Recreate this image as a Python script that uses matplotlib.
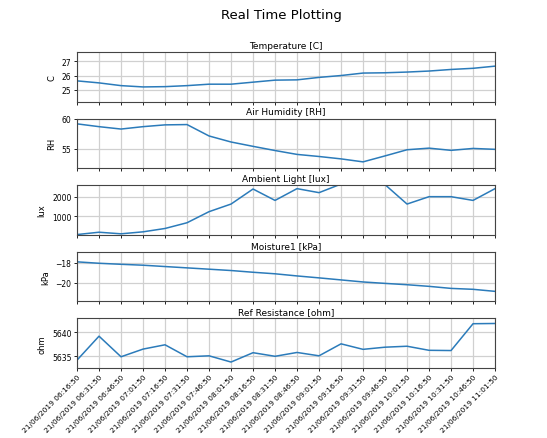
import matplotlib
matplotlib.use('Agg')
import matplotlib.pyplot as plt

# horarios das leituras (a cada 15 min)
horarios = ['21/06/2019 06:16:50', '21/06/2019 06:31:50', '21/06/2019 06:46:50',
            '21/06/2019 07:01:50', '21/06/2019 07:16:50', '21/06/2019 07:31:50',
            '21/06/2019 07:46:50', '21/06/2019 08:01:50', '21/06/2019 08:16:50',
            '21/06/2019 08:31:50', '21/06/2019 08:46:50', '21/06/2019 09:01:50',
            '21/06/2019 09:16:50', '21/06/2019 09:31:50', '21/06/2019 09:46:50',
            '21/06/2019 10:01:50', '21/06/2019 10:16:50', '21/06/2019 10:31:50',
            '21/06/2019 10:46:50', '21/06/2019 11:01:50']

temperatura = [25.63, 25.49, 25.30, 25.21, 25.23, 25.30, 25.40, 25.40, 25.54, 25.68,
               25.70, 25.87, 26.00, 26.17, 26.19, 26.24, 26.31, 26.42, 26.50, 26.65]
umidade = [59.17, 58.70, 58.30, 58.70, 59.00, 59.05, 57.14, 56.13, 55.40, 54.70,
           54.05, 53.70, 53.30, 52.80, 53.80, 54.83, 55.10, 54.73, 55.05, 54.90]
luz = [50, 170, 88, 190, 363, 658, 1228, 1620, 2394, 1808,
       2414, 2207, 2650, 2700, 2620, 1620, 2000, 2000, 1808, 2414]
umidade_solo = [-17.93, -18.07, -18.17, -18.26, -18.39, -18.52, -18.65, -18.78, -18.95, -19.10,
                -19.31, -19.50, -19.70, -19.90, -20.04, -20.17, -20.33, -20.53, -20.62, -20.82]
resistencia = [5634.2, 5639.2, 5634.9, 5636.5, 5637.4, 5634.9, 5635.1, 5633.8, 5635.75, 5635.0,
               5635.8, 5635.1, 5637.6, 5636.45, 5636.9, 5637.1, 5636.25, 5636.2, 5641.8, 5641.85]

paineis = [
    ('Temperature [C]', 'C', temperatura, (24.2, 27.63), [25, 26, 27]),
    ('Air Humidity [RH]', 'RH', umidade, (51.75, 60.05), [55, 60]),
    ('Ambient Light [lux]', 'lux', luz, (40, 2590), [1000, 2000]),
    ('Moisture1 [kPa]', 'kPa', umidade_solo, (-21.8, -16.95), [-20, -18]),
    ('Ref Resistance [ohm]', 'ohm', resistencia, (5632.56, 5642.9), [5635, 5640]),
]

fig, axs = plt.subplots(5, 1, sharex=True, figsize=(5.47, 4.39), dpi=100)
fig.subplots_adjust(left=0.1408, right=0.905, top=0.8793, bottom=0.1595, hspace=0.345)
fig.suptitle('Real Time Plotting', fontsize=9.5, x=0.514, y=0.98)

x = list(range(len(horarios)))
for ax, (titulo, unidade, valores, lim, ticks) in zip(axs, paineis):
    ax.plot(x, valores, color='#2b7bba', linewidth=1.1)
    ax.set_title(titulo, fontsize=6.5, pad=3)
    ax.set_ylabel(unidade, fontsize=6)
    ax.set_ylim(*lim)
    ax.set_yticks(ticks)
    ax.tick_params(labelsize=5.5, length=2.5, width=0.6, pad=1.5)
    ax.grid(True, color='#d0d0d0', linewidth=0.9)
    for s in ax.spines.values():
        s.set_color('#444444')
        s.set_linewidth(0.8)

axs[-1].set_xlim(0, len(horarios) - 1)
axs[-1].set_xticks(x)
axs[-1].set_xticklabels(horarios, rotation=45, ha='right', rotation_mode='anchor', fontsize=5.3)

plt.savefig('out.png', dpi=100)
